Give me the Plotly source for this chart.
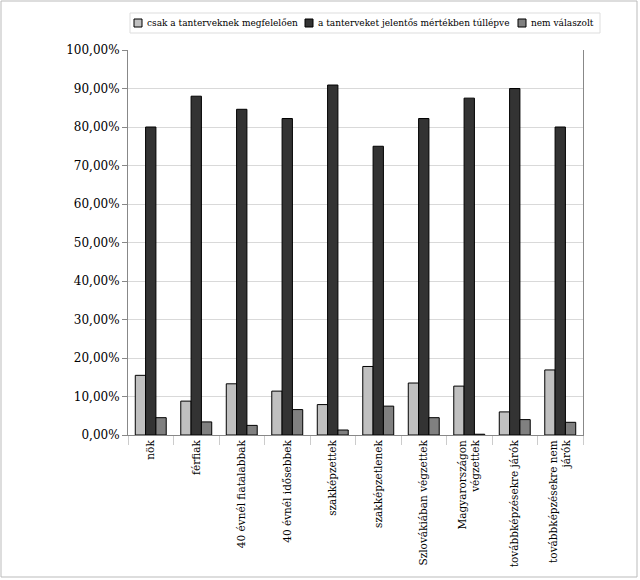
import plotly.graph_objects as go

categories = ["nök", "férfiak", "40 évnél fiatalabbak", "40 évnél idősebbek", "szakképzettek",
              "szakképzetlenek", "Szlovákiában végzettek", "Magyarországon<br>végzettek",
              "továbbképzésekre járók", "továbbképzésekre nem<br>járók"]
series_names = ["csak a tanterveknek megfelelően", "a tanterveket jelentős mértékben túllépve", "nem válaszolt"]
s1 = [15.5, 8.8, 13.3, 11.4, 7.9, 17.8, 13.5, 12.7, 6.0, 16.9]
s2 = [80.0, 88.0, 84.6, 82.2, 90.9, 75.0, 82.2, 87.5, 90.0, 80.0]
s3 = [4.5, 3.4, 2.5, 6.6, 1.3, 7.5, 4.5, 0.2, 4.0, 3.3]
colors = ["#c0c0c0", "#333333", "#808080"]

fig = go.Figure()
for name, vals, c in zip(series_names, [s1, s2, s3], colors):
    fig.add_trace(go.Bar(x=categories, y=vals, name=name, showlegend=False,
                         marker=dict(color=c, line=dict(color="black", width=1))))

W, H = 640, 580
ml, mr, mt, mb = 128, 57, 50, 145
pw, ph = W - ml - mr, H - mt - mb
SERIF = "DejaVu Serif"


def px(x):
    return (x - ml) / pw


def py(y):
    return (H - mb - y) / ph


# manual legend (pixel layout -> paper coordinates)
leg_font = 9
text_widths = [155, 197, 66]
shapes = [dict(type="rect", xref="paper", yref="paper",
               x0=px(1), x1=px(637), y0=py(577), y1=py(1),
               line=dict(color="#bbbbbb", width=1), layer="below")]
annotations = []
x = 134
for name, c, tw in zip(series_names, colors, text_widths):
    shapes.append(dict(type="rect", xref="paper", yref="paper",
                       x0=px(x), x1=px(x + 8), y0=py(27), y1=py(19),
                       fillcolor=c, line=dict(color="black", width=1)))
    annotations.append(dict(text=name, xref="paper", yref="paper", x=px(x + 11), y=py(23),
                            xanchor="left", yanchor="middle", showarrow=False,
                            font=dict(family=SERIF, size=leg_font, color="black")))
    x += 11 + tw + 5
shapes.append(dict(type="rect", xref="paper", yref="paper",
                   x0=px(130), x1=px(x), y0=py(33), y1=py(13),
                   line=dict(color="#dddddd", width=1)))

fig.update_layout(
    width=W, height=H,
    margin=dict(l=ml, r=mr, t=mt, b=mb),
    paper_bgcolor="white", plot_bgcolor="white",
    font=dict(family=SERIF, size=12, color="black"),
    separators=", ",
    barmode="group", bargap=0.32, bargroupgap=0,
    showlegend=False,
    yaxis=dict(range=[0, 100], dtick=10, tickformat=".2f", ticksuffix="%", showgrid=True,
               gridcolor="#d9d9d9", showline=True, linecolor="#888888", mirror=True, ticks="outside",
               ticklen=5, tickcolor="#888888", tickfont=dict(family=SERIF, size=12), zeroline=False,
               automargin=False),
    xaxis=dict(tickangle=-90, showline=True, linecolor="#888888", ticks="outside", ticklen=9,
               tickcolor="#cccccc", tickson="boundaries", tickfont=dict(family=SERIF, size=10.5),
               automargin=False),
    shapes=shapes,
    annotations=annotations,
)
fig.write_html("out.html")
